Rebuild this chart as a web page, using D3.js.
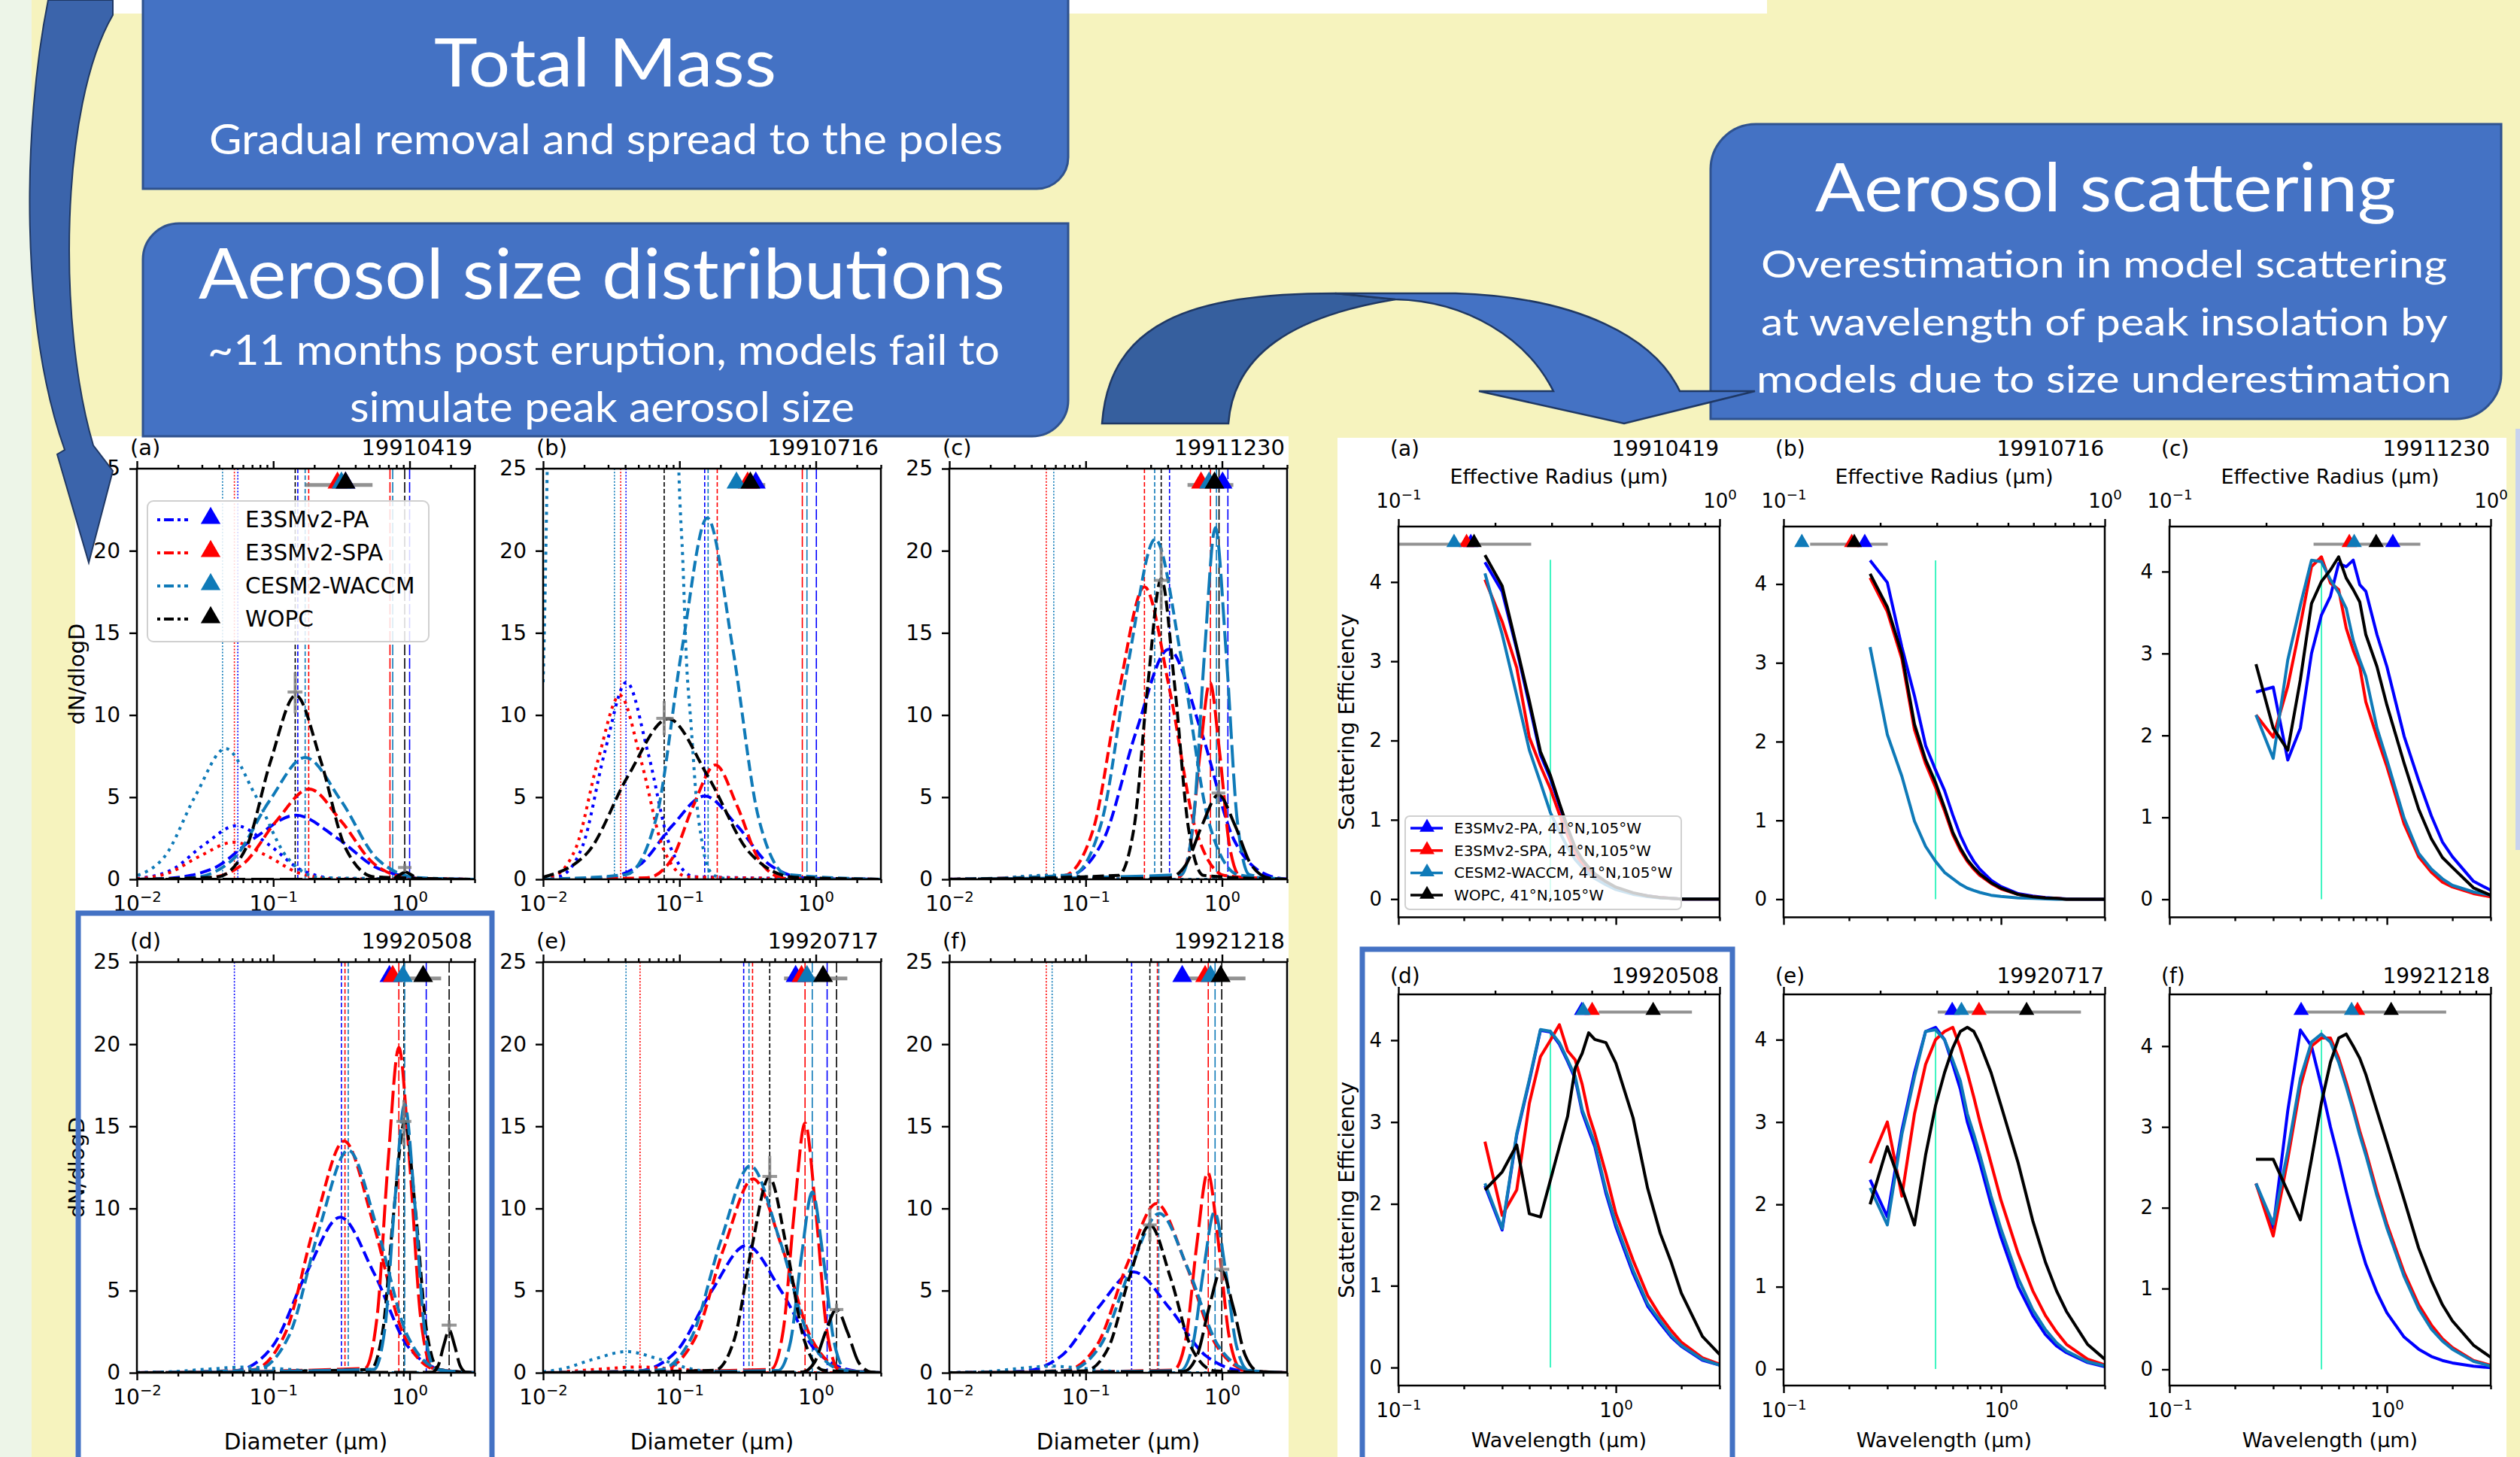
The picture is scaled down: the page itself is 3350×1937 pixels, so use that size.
<!DOCTYPE html>
<html>
<head>
<meta charset="utf-8">
<script src="https://cdn.jsdelivr.net/npm/d3@7"></script>
<style>
  body { margin: 0; background: #f6f3be; }
  svg { display: block; }
</style>
</head>
<body>
<svg id="poster" width="3350" height="1937"></svg>
<script>
// Pinatubo aerosol poster: size distributions (left) and scattering efficiency (right)

const models = ["E3SMv2-PA", "E3SMv2-SPA", "CESM2-WACCM", "WOPC"];
const dates = ["19910419", "19910716", "19911230", "19920508", "19920717", "19921218"];
const tags = ["(a)", "(b)", "(c)", "(d)", "(e)", "(f)"];

// ---- size distributions: [model, mode, [[log10 D, dN/dlogD], ...]]
const sizeA = [
  [0,1,[[-2,0.05],[-1.75,0.55],[-1.51,2.09],[-1.27,3.26],[-1.03,2.09],[-0.79,0.55],[-0.52,0.04],[0.48,0]]],
  [0,2,[[-2,0],[-1.79,0.05],[-1.44,0.66],[-1.14,2.5],[-0.835,3.9],[-0.53,2.5],[-0.23,0.66],[0.12,0.05],[0.48,0]]],
  [1,1,[[-2,0.03],[-1.77,0.38],[-1.53,1.45],[-1.29,2.26],[-1.05,1.45],[-0.81,0.38],[-0.54,0.03],[0.48,0]]],
  [1,2,[[-2,0],[-1.49,0.07],[-1.22,0.94],[-0.98,3.52],[-0.736,5.5],[-0.5,3.52],[-0.26,0.94],[0.01,0.07],[0.48,0]]],
  [2,1,[[-2.05,0.1],[-1.8,1.35],[-1.57,5.1],[-1.35,7.96],[-1.13,5.1],[-0.9,1.35],[-0.65,0.1],[0.48,0]]],
  [2,2,[[-2,0],[-1.59,0.1],[-1.29,1.26],[-1.03,4.75],[-0.766,7.42],[-0.5,4.75],[-0.24,1.26],[0.06,0.1],[0.48,0]]],
  [3,2,[[-2,0],[-1.41,0.15],[-1.2,1.9],[-1.02,7.17],[-0.835,11.2],[-0.65,7.17],[-0.47,1.9],[-0.26,0.15],[0.48,0]]],
  [3,3,[[-2,0],[-0.155,0.006],[-0.11,0.08],[-0.07,0.29],[-0.03,0.45],[0.01,0.29],[0.05,0.08],[0.095,0.006],[0.48,0]]]
];
const sizeB = [
  [0,1,[[-2,0.1],[-1.89,0.16],[-1.71,2.04],[-1.55,7.68],[-1.388,12.0],[-1.23,7.68],[-1.07,2.04],[-0.89,0.16],[0.48,0]]],
  [0,2,[[-2,0],[-1.565,0.07],[-1.295,0.86],[-1.055,3.24],[-0.815,5.07],[-0.575,3.24],[-0.335,0.86],[-0.065,0.07],[0.48,0]]],
  [1,1,[[-2,0.1],[-1.94,0.15],[-1.76,1.9],[-1.6,7.17],[-1.437,11.2],[-1.28,7.17],[-1.12,1.9],[-0.94,0.15],[0.48,0]]],
  [1,2,[[-2,0],[-1.24,0.09],[-1.06,1.18],[-0.9,4.45],[-0.736,6.96],[-0.576,4.45],[-0.416,1.18],[-0.236,0.09],[0.48,0]]],
  [2,1,[[-2,12],[-1.99,15.5],[-1.97,25],[-1.49,900],[-1.005,25],[-0.973,18.9],[-0.953,14.1],[-0.914,9.3],[-0.875,4.8],[-0.835,2.3],[-0.796,0.8],[-0.736,0.2],[-0.6,0],[0.48,0]]],
  [2,2,[[-2,0],[-1.39,0.29],[-1.17,3.74],[-0.98,14.1],[-0.796,22],[-0.61,14.1],[-0.42,3.74],[-0.21,0.29],[0.48,0]]],
  [3,2,[[-2,0.13],[-1.67,1.66],[-1.38,6.25],[-1.082,9.77],[-0.79,6.25],[-0.49,1.66],[-0.16,0.13],[0.48,0]]]
];
const sizeC = [
  [0,2,[[-2,0],[-1.14,0.18],[-0.871,2.38],[-0.631,8.96],[-0.391,14.0],[-0.151,8.96],[0.089,2.38],[0.359,0.18],[0.48,0.02]]],
  [1,1,[[-2,0.01],[-1.69,0.03],[-1.53,0.13],[-1.29,0.2],[-1.05,0.13],[-0.81,0.03],[-0.5,0],[0.48,0]]],
  [1,2,[[-2,0],[-1.16,0.23],[-0.945,3.03],[-0.757,11.4],[-0.569,17.8],[-0.381,11.4],[-0.193,3.03],[0.02,0.23],[0.48,0]]],
  [1,3,[[-2,0],[-0.314,0.16],[-0.233,2.04],[-0.161,7.68],[-0.089,12.0],[-0.017,7.68],[0.055,2.04],[0.136,0.16],[0.48,0]]],
  [2,1,[[-2,0.01],[-1.65,0.04],[-1.49,0.16],[-1.25,0.25],[-1.01,0.16],[-0.77,0.04],[-0.5,0],[0.48,0]]],
  [2,2,[[-2,0],[-1.1,0.27],[-0.882,3.52],[-0.686,13.25],[-0.49,20.7],[-0.294,13.25],[-0.098,3.52],[0.12,0.27],[0.48,0]]],
  [2,3,[[-2,0],[-0.299,0.28],[-0.209,3.64],[-0.129,13.7],[-0.049,21.4],[0.031,13.7],[0.111,3.64],[0.201,0.28],[0.48,0]]],
  [3,2,[[-2,0],[-0.76,0.24],[-0.646,3.11],[-0.546,11.7],[-0.446,18.3],[-0.346,11.7],[-0.246,3.11],[-0.136,0.24],[0.48,0]]],
  [3,3,[[-2,0],[-0.4,0.07],[-0.266,0.88],[-0.146,3.3],[-0.026,5.15],[0.094,3.3],[0.214,0.88],[0.349,0.07],[0.48,0]]]
];
const sizeD = [
  [0,2,[[-2,0],[-1.284,0.12],[-1.005,1.61],[-0.757,6.06],[-0.509,9.47],[-0.261,6.06],[-0.013,1.61],[0.266,0.12],[0.48,0]]],
  [1,2,[[-2,0],[-1.155,0.18],[-0.912,2.4],[-0.696,9.02],[-0.48,14.1],[-0.264,9.02],[-0.048,2.4],[0.195,0.18],[0.48,0]]],
  [1,3,[[-2,0],[-0.329,0.26],[-0.239,3.37],[-0.159,12.7],[-0.079,19.8],[0.001,12.7],[0.081,3.37],[0.171,0.26],[0.48,0]]],
  [2,1,[[-2,0.02],[-1.76,0.06],[-1.48,0.22],[-1.2,0.35],[-0.92,0.22],[-0.64,0.06],[-0.33,0],[0.48,0]]],
  [2,2,[[-2,0],[-1.125,0.18],[-0.882,2.3],[-0.666,8.67],[-0.45,13.55],[-0.234,8.67],[-0.018,2.3],[0.225,0.18],[0.48,0]]],
  [3,2,[[-2,0],[-0.286,0.2],[-0.196,2.6],[-0.116,9.8],[-0.036,15.3],[0.044,9.8],[0.124,2.6],[0.214,0.2],[0.48,0]]],
  [2,3,[[-2,0],[-0.261,0.21],[-0.18,2.78],[-0.108,10.5],[-0.036,16.35],[0.036,10.5],[0.108,2.78],[0.189,0.21],[0.48,0]]],
  [3,3,[[-2,0],[0.165,0.03],[0.21,0.44],[0.25,1.66],[0.29,2.6],[0.33,1.66],[0.37,0.44],[0.415,0.03],[0.48,0]]]
];
const sizeE = [
  [0,2,[[-2,0],[-1.309,0.1],[-1.021,1.32],[-0.765,4.96],[-0.509,7.75],[-0.253,4.96],[0.003,1.32],[0.291,0.1],[0.48,0]]],
  [1,1,[[-2,0.01],[-1.86,0.06],[-1.58,0.22],[-1.3,0.35],[-1.02,0.22],[-0.74,0.06],[-0.43,0],[0.48,0]]],
  [1,2,[[-2,0],[-1.135,0.15],[-0.892,2.0],[-0.676,7.55],[-0.46,11.8],[-0.244,7.55],[-0.028,2.0],[0.215,0.15],[0.48,0]]],
  [1,3,[[-2,0],[-0.329,0.2],[-0.239,2.58],[-0.159,9.73],[-0.079,15.2],[0.001,9.73],[0.081,2.58],[0.171,0.2],[0.48,0]]],
  [2,1,[[-2,0.06],[-1.868,0.22],[-1.628,0.83],[-1.388,1.29],[-1.148,0.83],[-0.908,0.22],[-0.638,0.02],[0.48,0]]],
  [2,2,[[-2,0],[-1.155,0.16],[-0.912,2.14],[-0.696,8.06],[-0.48,12.6],[-0.264,8.06],[-0.048,2.14],[0.195,0.16],[0.48,0]]],
  [2,3,[[-2,0],[-0.276,0.14],[-0.186,1.87],[-0.106,7.04],[-0.026,11.0],[0.054,7.04],[0.134,1.87],[0.224,0.14],[0.48,0]]],
  [3,2,[[-2,0],[-0.742,0.15],[-0.598,2.02],[-0.47,7.62],[-0.342,11.9],[-0.214,7.62],[-0.086,2.02],[0.058,0.15],[0.48,0]]],
  [3,3,[[-2,0],[-0.098,0.05],[-0.008,0.66],[0.072,2.48],[0.152,3.87],[0.232,2.48],[0.312,0.66],[0.402,0.05],[0.48,0]]]
];
const sizeF = [
  [0,2,[[-2,0],[-1.473,0.08],[-1.176,1.04],[-0.912,3.92],[-0.648,6.13],[-0.384,3.92],[-0.12,1.04],[0.177,0.08],[0.48,0]]],
  [1,2,[[-2,0],[-1.155,0.13],[-0.912,1.75],[-0.696,6.59],[-0.48,10.3],[-0.264,6.59],[-0.048,1.75],[0.195,0.13],[0.48,0]]],
  [1,3,[[-2,0],[-0.355,0.16],[-0.265,2.07],[-0.185,7.81],[-0.105,12.2],[-0.025,7.81],[0.055,2.07],[0.145,0.16],[0.48,0]]],
  [2,1,[[-2,0.01],[-1.73,0.07],[-1.49,0.26],[-1.25,0.4],[-1.01,0.26],[-0.77,0.07],[-0.5,0],[0.48,0]]],
  [2,2,[[-2,0],[-1.135,0.13],[-0.892,1.65],[-0.676,6.21],[-0.46,9.7],[-0.244,6.21],[-0.028,1.65],[0.215,0.13],[0.48,0]]],
  [2,3,[[-2,0],[-0.305,0.13],[-0.215,1.67],[-0.135,6.27],[-0.055,9.8],[0.025,6.27],[0.105,1.67],[0.195,0.13],[0.48,0]]],
  [3,2,[[-2,0],[-1.004,0.12],[-0.833,1.53],[-0.681,5.76],[-0.529,9.0],[-0.377,5.76],[-0.225,1.53],[-0.054,0.12],[0.48,0]]],
  [3,3,[[-2,0],[-0.281,0.08],[-0.182,1.06],[-0.094,4.0],[-0.006,6.25],[0.082,4.0],[0.17,1.06],[0.269,0.08],[0.48,0]]]
];

// mode diameters drawn as thin vertical lines: [model, mode, log10 D]
const modeA = [[2,1,-1.372],[1,1,-1.285],[0,1,-1.26],[3,2,-0.839],[0,2,-0.82],[2,2,-0.766],[1,2,-0.74],[1,3,-0.144],[2,3,-0.124],[3,3,-0.036],[0,3,0.0]];
const modeB = [[2,1,-1.477],[1,1,-1.431],[0,1,-1.392],[3,2,-1.112],[0,2,-0.815],[2,2,-0.79],[1,2,-0.723],[1,3,-0.099],[2,3,-0.065],[0,3,0.004]];
const modeC = [[1,1,-1.289],[2,1,-1.234],[1,2,-0.569],[2,2,-0.494],[3,2,-0.446],[0,2,-0.385],[1,3,-0.085],[2,3,-0.041],[3,3,-0.022],[0,3,0.043]];
const modeD = [[0,1,-1.285],[0,2,-0.5],[1,2,-0.474],[2,2,-0.45],[1,3,-0.079],[3,2,-0.042],[2,3,-0.036],[0,3,0.122],[3,3,0.29]];
const modeE = [[2,1,-1.392],[1,1,-1.289],[0,2,-0.529],[2,2,-0.49],[1,2,-0.464],[3,2,-0.338],[1,3,-0.079],[2,3,-0.026],[0,3,0.083],[3,3,0.152]];
const modeF = [[1,1,-1.289],[2,1,-1.246],[0,2,-0.663],[3,2,-0.529],[1,2,-0.474],[2,2,-0.464],[1,3,-0.101],[2,3,-0.051],[3,3,-0.002]];

// effective diameter (log10 D) per model, WOPC range, WOPC mode peaks with error bars
const effDiam = [[-0.47,-0.529,-0.5,-0.47],[-0.44,-0.5,-0.582,-0.48],[0.004,-0.154,-0.095,-0.055],
                 [-0.148,-0.124,-0.049,0.099],[-0.148,-0.105,-0.065,0.053],[-0.292,-0.124,-0.085,-0.01]];
const wopcDiamRange = [[-0.766,-0.272],[-0.618,-0.371],[-0.253,0.083],[-0.085,0.231],[-0.233,0.231],[-0.302,0.172]];
const wopcPeaks = [
  [[-0.839,11.4,-0.895,-0.786,10.1,12.6],[-0.036,0.72,-0.085,0.014,0.45,0.95]],
  [[-1.112,9.8,-1.17,-1.043,8.77,10.85]],
  [[-0.446,18.2,-0.5,-0.392,16.4,20.2],[-0.026,5.25,-0.076,0.024,4.6,5.8]],
  [[-0.042,15.3,-0.097,0.013,13.8,16.6],[0.29,2.9,0.235,0.345,2.5,3.2]],
  [[-0.338,11.95,-0.392,-0.284,10.8,13.2],[0.152,3.85,0.102,0.202,3.6,4.2]],
  [[-0.529,9.0,-0.579,-0.479,8.0,10.0],[-0.002,6.3,-0.057,0.053,5.5,7.0]]
];

// ---- scattering efficiency vs wavelength (PA, SPA, CESM, WOPC)
const wavelength = [0.25,0.3,0.35,0.4,0.45,0.5,0.55,0.6,0.65,0.7,0.75,0.8,0.9,1.0,1.2,1.4,1.6,1.8,2.0,2.5,3.0];
const scatA = [
  [4.25,3.88,3.15,2.45,1.82,1.52,1.18,0.88,0.63,0.49,0.39,0.31,0.21,0.14,0.07,0.04,0.02,0.01,0,0,0],
  [4.03,3.5,2.92,2.04,1.68,1.39,1.07,0.8,0.58,0.44,0.35,0.28,0.19,0.13,0.07,0.035,0.02,0.01,0,0,0],
  [4.11,3.34,2.57,1.88,1.47,1.09,0.85,0.65,0.5,0.4,0.32,0.26,0.18,0.12,0.06,0.03,0.015,0.01,0,0,0],
  [4.34,3.95,3.18,2.5,1.86,1.56,1.21,0.9,0.65,0.5,0.4,0.32,0.22,0.15,0.08,0.04,0.02,0.01,0,0,0]
];
const scatB = [
  [4.3,4.02,3.2,2.58,1.95,1.64,1.38,1.07,0.81,0.62,0.48,0.38,0.24,0.16,0.07,0.04,0.02,0.01,0.005,0,0],
  [4.08,3.65,3.05,2.15,1.72,1.42,1.12,0.82,0.62,0.48,0.38,0.3,0.2,0.13,0.06,0.03,0.015,0.01,0,0,0],
  [3.2,2.09,1.56,0.99,0.67,0.48,0.34,0.26,0.19,0.14,0.11,0.085,0.05,0.035,0.015,0.01,0.005,0,0,0,0],
  [4.13,3.71,3.11,2.22,1.77,1.48,1.16,0.85,0.65,0.5,0.4,0.32,0.21,0.14,0.06,0.03,0.015,0.01,0,0,0]
];
const scatC = [
  [2.53,2.59,1.7,2.09,3.0,3.47,3.7,4.1,4.06,4.14,3.84,3.76,3.23,2.84,1.99,1.45,1.02,0.7,0.52,0.22,0.11],
  [2.25,1.98,2.6,3.35,4.06,4.18,3.86,3.78,3.31,3.04,2.84,2.41,1.98,1.62,0.92,0.52,0.33,0.21,0.15,0.07,0.03],
  [2.25,1.72,2.92,3.59,4.14,4.12,3.9,3.74,3.55,3.16,2.92,2.72,2.09,1.7,0.99,0.56,0.37,0.25,0.17,0.09,0.05],
  [2.87,2.09,1.82,2.68,3.61,3.88,4.02,4.18,3.92,3.78,3.63,3.23,2.84,2.37,1.66,1.1,0.74,0.51,0.39,0.14,0.05]
];
const scatD = [
  [2.22,1.68,2.84,3.5,4.12,4.1,3.95,3.74,3.53,3.12,2.9,2.7,2.13,1.72,1.15,0.75,0.54,0.37,0.26,0.09,0.03],
  [2.76,1.86,2.17,3.23,3.8,4.0,4.19,3.87,3.76,3.46,3.09,2.86,2.37,1.88,1.31,0.88,0.63,0.45,0.31,0.12,0.04],
  [2.25,1.7,2.86,3.52,4.13,4.11,3.97,3.76,3.56,3.15,2.94,2.74,2.17,1.76,1.19,0.78,0.57,0.39,0.27,0.1,0.03],
  [2.17,2.39,2.72,1.88,1.84,2.29,2.7,3.07,3.66,3.84,4.09,4.01,3.97,3.72,3.05,2.19,1.64,1.28,0.91,0.38,0.16]
];
const scatE = [
  [2.3,1.85,2.9,3.6,4.1,4.15,4.0,3.7,3.4,3.0,2.75,2.5,2.0,1.6,1.0,0.65,0.42,0.28,0.2,0.08,0.03],
  [2.5,3.0,2.1,3.1,3.7,4.0,4.1,4.15,3.9,3.6,3.3,3.0,2.5,2.05,1.4,0.95,0.65,0.45,0.3,0.12,0.05],
  [2.2,1.75,2.85,3.55,4.1,4.12,4.0,3.75,3.5,3.1,2.85,2.6,2.1,1.7,1.1,0.72,0.48,0.32,0.22,0.09,0.04],
  [2.0,2.7,2.2,1.75,2.6,3.2,3.6,3.9,4.1,4.15,4.1,3.95,3.6,3.2,2.5,1.8,1.3,0.95,0.7,0.3,0.12]
];
const scatF = [
  [2.3,1.75,3.2,4.2,4.0,3.5,3.0,2.6,2.2,1.85,1.55,1.3,0.95,0.7,0.4,0.25,0.16,0.11,0.08,0.04,0.02],
  [2.3,1.65,2.6,3.5,4.0,4.1,4.1,3.85,3.55,3.25,2.95,2.7,2.2,1.8,1.2,0.8,0.55,0.38,0.27,0.11,0.05],
  [2.3,1.8,2.7,3.6,4.05,4.15,4.05,3.8,3.5,3.2,2.9,2.65,2.15,1.75,1.15,0.75,0.5,0.35,0.25,0.1,0.04],
  [2.6,2.6,2.2,1.85,2.6,3.3,3.8,4.1,4.15,4.0,3.85,3.65,3.2,2.8,2.1,1.5,1.1,0.8,0.6,0.3,0.15]
];
// effective radius (um) per model and WOPC range, and the y limits of each panel
const effRadius = [[0.168,0.163,0.149,0.172],[0.179,0.163,0.114,0.166],[0.496,0.363,0.376,0.44],
                   [0.372,0.401,0.376,0.621],[0.335,0.406,0.358,0.571],[0.257,0.385,0.369,0.49]];
const wopcRadRange = [[0.1,0.259],[0.121,0.211],[0.281,0.604],[0.42,0.82],[0.302,0.843],[0.248,0.727]];
const scatYLim = [[-0.23,4.7],[-0.23,4.73],[-0.22,4.55],[-0.22,4.56],[-0.2,4.55],[-0.2,4.64]];
const peakInsolation = 0.5;
const insolTop = [4.28,4.3,4.18,4.13,4.15,4.2];

const diamMajor = [0.01, 0.1, 1];
const diamMinor = [0.02,0.03,0.04,0.05,0.06,0.07,0.08,0.09,0.2,0.3,0.4,0.5,0.6,0.7,0.8,0.9,2,3];
const waveMajor = [0.1, 1];
const waveMinor = [0.2,0.3,0.4,0.5,0.6,0.7,0.8,0.9,2,3];
const radMinor = [0.2,0.3,0.4,0.5,0.6,0.7,0.8,0.9];
const sizeTicks = [0, 5, 10, 15, 20, 25];
const scatTicks = [0, 1, 2, 3, 4];

const sizeCurves = [sizeA, sizeB, sizeC, sizeD, sizeE, sizeF];
const sizeModes = [modeA, modeB, modeC, modeD, modeE, modeF];
const scatCurves = [scatA, scatB, scatC, scatD, scatE, scatF];

// ---- styles
const modelColor = ["#0000ff", "#ff0000", "#0f7ab8", "#000000"];
const curveDash = {1: "4,6.6", 2: "14.8,6.4", 3: "30,8"};
const vlineDash = {1: "2,2.2", 2: "6,3", 3: "14,4"};
const boxBlue = "#4472c4", boxEdge = "#2f528f";
const font = "DejaVu Sans";

const svg = d3.select("#poster");

// ---- background
svg.append("rect").attr("width", 3350).attr("height", 1937).attr("fill", "#f6f3be");
svg.append("rect").attr("width", 42).attr("height", 1937).attr("fill", "#edf5e8");
svg.append("rect").attr("x", 148).attr("width", 2201).attr("height", 18).attr("fill", "#fff");
svg.append("rect").attr("x", 100).attr("y", 580).attr("width", 1613).attr("height", 1357).attr("fill", "#fff");
svg.append("rect").attr("x", 1778).attr("y", 582).attr("width", 1554).attr("height", 1355).attr("fill", "#fff");
svg.append("rect").attr("x", 3344).attr("y", 570).attr("width", 6).attr("height", 560).attr("fill", "#c9d3ee");

// ---- title boxes
function roundDiag(x0, y0, x1, y1, r) {
  return `M${x0 + r},${y0}H${x1}V${y1 - r}A${r},${r} 0 0 1 ${x1 - r},${y1}H${x0}V${y0 + r}A${r},${r} 0 0 1 ${x0 + r},${y0}Z`;
}
[[190, -60, 1420, 251, 42], [190, 297, 1420, 580, 48], [2274, 165, 3325, 557, 60]].forEach(b => {
  svg.append("path").attr("d", roundDiag(...b)).attr("fill", boxBlue).attr("stroke", boxEdge).attr("stroke-width", 3);
});
const posterText = [
  ["Total Mass", 577, 1032, 115, 90],
  ["Gradual removal and spread to the poles", 278, 1333, 205, 56],
  ["Aerosol size distributions", 264, 1336, 397, 93],
  ["~11 months post eruption, models fail to", 276, 1329, 485, 56],
  ["simulate peak aerosol size", 465, 1136, 561, 56],
  ["Aerosol scattering", 2413, 3185, 281, 90],
  ["Overestimation in model scattering", 2341, 3253, 369, 51],
  ["at wavelength of peak insolation by", 2341, 3254, 446, 51],
  ["models due to size underestimation", 2335, 3259, 522, 51]
];
svg.selectAll("text.poster").data(posterText).join("text").attr("class", "poster")
  .attr("x", d => d[1]).attr("y", d => d[3]).attr("textLength", d => d[2] - d[1])
  .attr("lengthAdjust", "spacingAndGlyphs").attr("font-family", "Lato").attr("font-size", d => d[4])
  .attr("fill", "#fff").text(d => d[0]);

// ---- axis helpers
function addAxis(axis, tx, ty, fs) {
  const g = svg.append("g").attr("transform", `translate(${tx},${ty})`).call(axis);
  g.select(".domain").remove();
  g.selectAll(".tick line").attr("stroke", "#000").attr("stroke-width", 2.4);
  g.selectAll(".tick text").attr("fill", "#000").attr("font-size", fs).attr("font-family", font);
  return g;
}
function powLabels(g, fs) {
  g.selectAll(".tick text").each(function(d) {
    const e = Math.round(Math.log10(d));
    const t = d3.select(this).text(null);
    t.append("tspan").text("10");
    t.append("tspan").attr("dy", -0.42 * fs).attr("font-size", 0.7 * fs).text(e < 0 ? "\u2212" + (-e) : String(e));
  });
}
const tri = s => d3.symbol().type(d3.symbolTriangle).size(s)();

// ---- size distribution panels
const sizeBox = {x: [182, 722, 1262], y: [623, 1279], w: 449, h: 546};

function sizePanel(i) {
  const col = i % 3, row = Math.floor(i / 3);
  const X0 = sizeBox.x[col], Y0 = sizeBox.y[row], w = sizeBox.w, h = sizeBox.h;
  const x = d3.scaleLog().domain([0.01, 3.0]).range([X0, X0 + w]);
  const y = d3.scaleLinear().domain([0, 25]).range([Y0 + h, Y0]);
  const g = svg.append("g");
  g.append("clipPath").attr("id", "clipS" + i).append("rect")
    .attr("x", X0).attr("y", Y0).attr("width", w).attr("height", h);
  const plot = g.append("g").attr("clip-path", `url(#clipS${i})`);

  plot.append("g").selectAll("line").data(sizeModes[i]).join("line")
    .attr("x1", d => x(10 ** d[2])).attr("x2", d => x(10 ** d[2]))
    .attr("y1", Y0).attr("y2", Y0 + h)
    .attr("stroke", d => modelColor[d[0]]).attr("stroke-width", 1.6)
    .attr("stroke-dasharray", d => vlineDash[d[1]]);

  const line = d3.line().x(d => x(10 ** d[0])).y(d => y(d[1])).curve(d3.curveMonotoneX);
  plot.append("g").selectAll("path").data(sizeCurves[i]).join("path")
    .attr("d", d => line(d[2])).attr("fill", "none")
    .attr("stroke", d => modelColor[d[0]]).attr("stroke-width", 4)
    .attr("stroke-dasharray", d => curveDash[d[1]]);

  const pk = plot.append("g").attr("stroke", "#7f7f7f").attr("stroke-opacity", 0.8).attr("stroke-width", 4);
  wopcPeaks[i].forEach(p => {
    pk.append("line").attr("x1", x(10 ** p[2])).attr("x2", x(10 ** p[3])).attr("y1", y(p[1])).attr("y2", y(p[1]));
    pk.append("line").attr("x1", x(10 ** p[0])).attr("x2", x(10 ** p[0])).attr("y1", y(p[4])).attr("y2", y(p[5]));
  });

  const r = wopcDiamRange[i];
  plot.append("line").attr("x1", x(10 ** r[0])).attr("x2", x(10 ** r[1])).attr("y1", y(24)).attr("y2", y(24))
    .attr("stroke", "#7f7f7f").attr("stroke-opacity", 0.85).attr("stroke-width", 5);
  plot.append("g").selectAll("path").data(effDiam[i]).join("path")
    .attr("d", tri(300)).attr("transform", d => `translate(${x(10 ** d)},${y(24) - 3})`)
    .attr("fill", (d, k) => modelColor[k]);

  // axes
  const b = addAxis(d3.axisBottom(x).tickValues(diamMajor).tickSize(10).tickPadding(12), 0, Y0 + h, 28);
  powLabels(b, 28);
  addAxis(d3.axisBottom(x).tickValues(diamMinor).tickSize(5).tickFormat(""), 0, Y0 + h, 28);
  addAxis(d3.axisTop(x).tickValues(diamMajor).tickSize(10).tickFormat(""), 0, Y0, 28);
  addAxis(d3.axisTop(x).tickValues(diamMinor).tickSize(5).tickFormat(""), 0, Y0, 28);
  addAxis(d3.axisLeft(y).tickValues(sizeTicks).tickSize(10).tickPadding(12).tickFormat(d3.format("d")), X0, 0, 28);
  g.append("rect").attr("x", X0).attr("y", Y0).attr("width", w).attr("height", h)
    .attr("fill", "none").attr("stroke", "#000").attr("stroke-width", 2.5);

  g.append("text").attr("x", X0 - 9).attr("y", Y0 - 18).attr("font-family", font).attr("font-size", 29).text(tags[i]);
  g.append("text").attr("x", X0 + w - 3).attr("y", Y0 - 18).attr("text-anchor", "end")
    .attr("font-family", font).attr("font-size", 29).text(dates[i]);
  if (row === 1) {
    g.append("text").attr("x", X0 + w / 2).attr("y", 1927).attr("text-anchor", "middle")
      .attr("font-family", font).attr("font-size", 29.5).text("Diameter (\u03bcm)");
  }
  if (col === 0) {
    g.append("text").attr("transform", `translate(112,${Y0 + h / 2}) rotate(-90)`).attr("text-anchor", "middle")
      .attr("font-family", font).attr("font-size", 29).text("dN/dlogD");
  }
}
for (let i = 0; i < 6; i++) sizePanel(i);

// size legend in panel (a)
const lg = svg.append("g");
lg.append("rect").attr("x", 196).attr("y", 666).attr("width", 374).attr("height", 187).attr("rx", 8)
  .attr("fill", "#fff").attr("fill-opacity", 0.85).attr("stroke", "#d0d0d0").attr("stroke-width", 2);
models.forEach((m, k) => {
  const cy = 691 + k * 44;
  lg.append("line").attr("x1", 209).attr("x2", 250).attr("y1", cy).attr("y2", cy)
    .attr("stroke", modelColor[k]).attr("stroke-width", 4).attr("stroke-dasharray", "4,5,13,5");
  lg.append("path").attr("d", tri(300)).attr("transform", `translate(280,${cy - 2})`).attr("fill", modelColor[k]);
  lg.append("text").attr("x", 326).attr("y", cy + 10).attr("font-family", font).attr("font-size", 29.5).text(m);
});

// ---- scattering efficiency panels
const scatBox = {x: [1859, 2371, 2884], y: [700, 1322], w: 427, h: [519.5, 520]};

function scatPanel(i) {
  const col = i % 3, row = Math.floor(i / 3);
  const X0 = scatBox.x[col], Y0 = scatBox.y[row], w = scatBox.w, h = scatBox.h[row];
  const xw = d3.scaleLog().domain([0.1, 3.0]).range([X0, X0 + w]);
  const xr = d3.scaleLog().domain([0.1, 1.0]).range([X0, X0 + w]);
  const y = d3.scaleLinear().domain(scatYLim[i]).range([Y0 + h, Y0]);
  const g = svg.append("g");
  g.append("clipPath").attr("id", "clipQ" + i).append("rect")
    .attr("x", X0).attr("y", Y0).attr("width", w).attr("height", h);
  const plot = g.append("g").attr("clip-path", `url(#clipQ${i})`);

  plot.append("line").attr("x1", xw(peakInsolation)).attr("x2", xw(peakInsolation))
    .attr("y1", y(0)).attr("y2", y(insolTop[i])).attr("stroke", "#3cf5c0").attr("stroke-width", 2);

  const line = d3.line().x((d, k) => xw(wavelength[k])).y(d => y(d));
  plot.append("g").selectAll("path").data(scatCurves[i]).join("path")
    .attr("d", line).attr("fill", "none").attr("stroke", (d, k) => modelColor[k])
    .attr("stroke-width", 4).attr("stroke-linejoin", "round");

  const ty = Y0 + 0.045 * h;
  const r = wopcRadRange[i];
  plot.append("line").attr("x1", xr(r[0])).attr("x2", xr(r[1])).attr("y1", ty).attr("y2", ty)
    .attr("stroke", "#7f7f7f").attr("stroke-opacity", 0.85).attr("stroke-width", 4);
  plot.append("g").selectAll("path").data(effRadius[i]).join("path")
    .attr("d", tri(180)).attr("transform", d => `translate(${xr(d)},${ty - 2})`)
    .attr("fill", (d, k) => modelColor[k]);

  const b = addAxis(d3.axisBottom(xw).tickValues(waveMajor).tickSize(10).tickPadding(14)
    .tickFormat(row === 1 ? null : ""), 0, Y0 + h, 26);
  if (row === 1) powLabels(b, 26);
  addAxis(d3.axisBottom(xw).tickValues(waveMinor).tickSize(5).tickFormat(""), 0, Y0 + h, 26);
  const t = addAxis(d3.axisTop(xr).tickValues(waveMajor).tickSize(10).tickPadding(15)
    .tickFormat(row === 0 ? null : ""), 0, Y0, 26);
  if (row === 0) powLabels(t, 26);
  addAxis(d3.axisTop(xr).tickValues(radMinor).tickSize(5).tickFormat(""), 0, Y0, 26);
  addAxis(d3.axisLeft(y).tickValues(scatTicks).tickSize(10).tickPadding(12).tickFormat(d3.format("d")), X0, 0, 26);
  g.append("rect").attr("x", X0).attr("y", Y0).attr("width", w).attr("height", h)
    .attr("fill", "none").attr("stroke", "#000").attr("stroke-width", 2.5);

  const titleY = row === 0 ? Y0 - 94 : Y0 - 15;
  g.append("text").attr("x", X0 - 11).attr("y", titleY).attr("font-family", font).attr("font-size", 28).text(tags[i]);
  g.append("text").attr("x", X0 + w - 1).attr("y", titleY).attr("text-anchor", "end")
    .attr("font-family", font).attr("font-size", 28).text(dates[i]);
  if (row === 0) {
    g.append("text").attr("x", X0 + w / 2).attr("y", Y0 - 57).attr("text-anchor", "middle")
      .attr("font-family", font).attr("font-size", 27).text("Effective Radius (\u03bcm)");
  } else {
    g.append("text").attr("x", X0 + w / 2).attr("y", 1924).attr("text-anchor", "middle")
      .attr("font-family", font).attr("font-size", 27).text("Wavelength (\u03bcm)");
  }
  if (col === 0) {
    g.append("text").attr("transform", `translate(1800,${Y0 + h / 2}) rotate(-90)`).attr("text-anchor", "middle")
      .attr("font-family", font).attr("font-size", 28).text("Scattering Efficiency");
  }
}
for (let i = 0; i < 6; i++) scatPanel(i);

// scattering legend in panel (a)
const lq = svg.append("g");
lq.append("rect").attr("x", 1868).attr("y", 1085).attr("width", 367).attr("height", 124).attr("rx", 6)
  .attr("fill", "#fff").attr("fill-opacity", 0.8).attr("stroke", "#d0d0d0").attr("stroke-width", 2);
models.forEach((m, k) => {
  const cy = 1101 + k * 29.7;
  lq.append("line").attr("x1", 1875).attr("x2", 1918).attr("y1", cy).attr("y2", cy)
    .attr("stroke", modelColor[k]).attr("stroke-width", 3.5);
  lq.append("path").attr("d", tri(170)).attr("transform", `translate(1897,${cy - 1})`).attr("fill", modelColor[k]);
  lq.append("text").attr("x", 1933).attr("y", cy + 7).attr("font-family", font).attr("font-size", 20)
    .text(m + ", 41\u00b0N,105\u00b0W");
});

// ---- arrows
svg.append("path")
  .attr("d", "M64,0 C30,170 26,430 86,598 L76,604 L118,748 L150,626 L124,592 C76,430 80,140 150,20 L150,0 Z")
  .attr("fill", "#3b64ab").attr("stroke", "#1f3864").attr("stroke-width", 2);
svg.append("path")
  .attr("d", "M1465,563 C1475,430 1580,390 1775,390 L1855,398 C1720,420 1640,470 1633,563 Z")
  .attr("fill", "#365f9e").attr("stroke", "#1f3864").attr("stroke-width", 2.5);
svg.append("path")
  .attr("d", "M1775,390 L1935,390 C2100,395 2200,450 2233,520 L2333,520 L2159,563 L1966,520 L2065,520 C2030,450 1950,400 1855,398 Z")
  .attr("fill", boxBlue).attr("stroke", "#1f3864").attr("stroke-width", 2.5);

// ---- highlight frames around panels (d)
svg.append("rect").attr("x", 104).attr("y", 1214).attr("width", 550).attr("height", 760)
  .attr("fill", "none").attr("stroke", boxBlue).attr("stroke-width", 7);
svg.append("rect").attr("x", 1811).attr("y", 1262).attr("width", 492).attr("height", 720)
  .attr("fill", "none").attr("stroke", boxBlue).attr("stroke-width", 7);
</script>
</body>
</html>
